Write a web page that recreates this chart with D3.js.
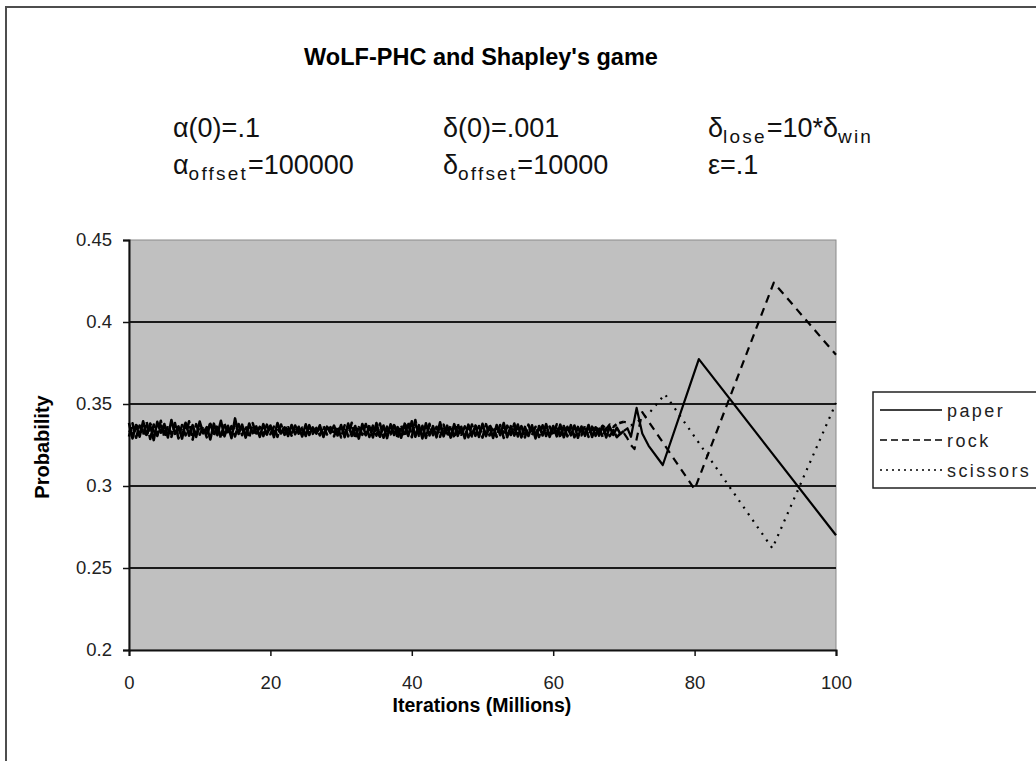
<!DOCTYPE html>
<html>
<head>
<meta charset="utf-8">
<script src="https://cdn.jsdelivr.net/npm/d3@7"></script>
<style>
  body { margin: 0; background: #fff; }
  text { font-family: 'Liberation Sans', Arial, sans-serif; }
</style>
</head>
<body>
<div id="svg"></div>
<script>
//iterations (millions) sampled through the noisy part of the run
let noiseIters = d3.range(0, 70.5, 0.5);

let paperNoise = [
  .3385, .3290, .3372, .3301, .3395, .3312, .3368, .3280, .3391, .3325,
  .3378, .3296, .3402, .3318, .3364, .3289, .3386, .3307, .3371, .3299,
  .3393, .3321, .3359, .3284, .3380, .3310, .3398, .3303, .3367, .3292,
  .3412, .3317, .3374, .3295, .3381, .3322, .3363, .3300, .3377, .3314,
  .3369, .3298, .3384, .3320, .3358, .3305, .3372, .3316, .3361, .3302,
  .3376, .3311, .3357, .3319, .3370, .3299, .3362, .3323, .3368, .3308,
  .3372, .3298, .3381, .3305, .3366, .3289, .3378, .3310, .3362, .3296,
  .3384, .3302, .3369, .3292, .3376, .3311, .3359, .3294, .3380, .3305,
  .3395, .3300, .3371, .3290, .3382, .3308, .3365, .3297, .3388, .3303,
  .3368, .3295, .3377, .3306, .3361, .3291, .3374, .3309, .3366, .3299,
  .3379, .3304, .3363, .3293, .3372, .3310, .3384, .3298, .3365, .3307,
  .3375, .3296, .3360, .3305, .3370, .3290, .3362, .3308, .3377, .3300,
  .3366, .3303, .3374, .3297, .3361, .3309, .3369, .3294, .3363, .3306,
  .3372, .3299, .3358, .3307, .3365, .3296, .3360, .3311, .3356, .3318,
  .3336];
let rockNoise = [
  .3301, .3382, .3294, .3369, .3311, .3390, .3287, .3375, .3305, .3398,
  .3298, .3366, .3315, .3384, .3290, .3372, .3309, .3394, .3283, .3377,
  .3313, .3363, .3297, .3388, .3306, .3370, .3292, .3381, .3318, .3365,
  .3302, .3378, .3310, .3367, .3295, .3383, .3314, .3360, .3304, .3374,
  .3316, .3362, .3300, .3375, .3312, .3358, .3307, .3369, .3319, .3356,
  .3305, .3371, .3318, .3354, .3309, .3366, .3314, .3359, .3303, .3362,
  .3296, .3370, .3303, .3385, .3290, .3364, .3312, .3378, .3299, .3368,
  .3307, .3381, .3294, .3362, .3311, .3376, .3289, .3370, .3305, .3390,
  .3298, .3402, .3306, .3367, .3293, .3379, .3310, .3361, .3300, .3374,
  .3304, .3369, .3292, .3380, .3309, .3363, .3297, .3375, .3306, .3366,
  .3295, .3377, .3308, .3360, .3300, .3372, .3293, .3368, .3311, .3381,
  .3302, .3365, .3296, .3374, .3310, .3361, .3299, .3370, .3305, .3363,
  .3308, .3376, .3294, .3366, .3303, .3371, .3297, .3360, .3309, .3368,
  .3300, .3362, .3306, .3357, .3298, .3352, .3304, .3340, .3298, .3320,
  .3322];
let scissorsNoise = [
  .3340, .3318, .3376, .3327, .3352, .3305, .3381, .3334, .3312, .3369,
  .3331, .3356, .3300, .3374, .3338, .3315, .3389, .3326, .3347, .3308,
  .3362, .3335, .3320, .3379, .3329, .3350, .3311, .3368, .3337, .3324,
  .3371, .3330, .3346, .3313, .3365, .3333, .3321, .3359, .3340, .3316,
  .3361, .3328, .3349, .3318, .3366, .3336, .3323, .3355, .3331, .3344,
  .3317, .3360, .3334, .3326, .3351, .3320, .3358, .3337, .3329, .3348,
  .3351, .3318, .3366, .3329, .3305, .3359, .3337, .3312, .3373, .3324,
  .3346, .3301, .3362, .3335, .3315, .3371, .3328, .3349, .3306, .3364,
  .3332, .3380, .3320, .3354, .3309, .3368, .3338, .3316, .3361, .3327,
  .3350, .3304, .3365, .3331, .3313, .3358, .3340, .3302, .3369, .3322,
  .3345, .3310, .3373, .3334, .3306, .3356, .3326, .3363, .3315, .3348,
  .3330, .3360, .3303, .3352, .3338, .3318, .3366, .3325, .3344, .3309,
  .3357, .3333, .3312, .3364, .3327, .3349, .3306, .3359, .3336, .3320,
  .3353, .3341, .3362, .3335, .3367, .3348, .3374, .3360, .3378, .3385,
  .3392];

//after 70M the oscillations grow
let paperTailIters = [70.5, 71, 71.8, 72.6, 73.5, 75.5, 80.6, 100];
let paperTail = [.3352, .3300, .3476, .3320, .3245, .3128, .3774, .2700];
let rockTailIters = [70.5, 71, 71.5, 72.6, 80, 91.2, 100];
let rockTail = [.3290, .3250, .3225, .3450, .2980, .4240, .3800];
let scissorsTailIters = [70.5, 71, 72, 73.5, 75.8, 91, 100];
let scissorsTail = [.3385, .3370, .3395, .3440, .3560, .2620, .3506];

let seriesNames = ['paper', 'rock', 'scissors'];
let xTicks = [0, 20, 40, 60, 80, 100];
let yTicks = [0.2, 0.25, 0.3, 0.35, 0.4, 0.45];

//dimensions of svg
let w = 1036;
let h = 761;
let plot = { left: 129, right: 836, top: 240, bottom: 650 };
let font = "'Liberation Sans', Arial, sans-serif";

let svg = d3.select('#svg').
append('svg').
attr('width', w).
attr('height', h);

//outer chart frame
svg.append('rect').
attr('x', 6).
attr('y', 7).
attr('width', w + 20).
attr('height', h + 20).
attr('fill', '#fff').
attr('stroke', '#4d4d4d').
attr('stroke-width', 2);

let xScale = d3.scaleLinear().
domain([0, 100]).
range([plot.left, plot.right]);

let yScale = d3.scaleLinear().
domain([0.2, 0.45]).
range([plot.bottom, plot.top]);

//plot area
svg.append('rect').
attr('x', plot.left).
attr('y', plot.top).
attr('width', plot.right - plot.left).
attr('height', plot.bottom - plot.top).
attr('fill', '#c0c0c0').
attr('stroke', '#8a8a8a').
attr('stroke-width', 1);

//gridlines
svg.append('g').
selectAll('line').
data(yTicks.filter(d => d > 0.2 && d < 0.45)).
enter().
append('line').
attr('x1', plot.left).
attr('x2', plot.right).
attr('y1', d => yScale(d)).
attr('y2', d => yScale(d)).
attr('stroke', '#1a1a1a').
attr('stroke-width', 2);

//X axis
let xAxis = d3.axisBottom(xScale).tickValues(xTicks).tickSize(6).tickPadding(20).tickFormat(d3.format('d'));
let gx = svg.append('g').
attr('transform', 'translate(0,' + plot.bottom + ')').
call(xAxis);
gx.select('.domain').attr('stroke', '#111').attr('stroke-width', 2);
gx.selectAll('.tick line').attr('stroke', '#111').attr('stroke-width', 1.5);
gx.selectAll('.tick text').
attr('font-size', 18.5).
attr('fill', '#222').
style('font-family', font);

//Y axis
let yAxis = d3.axisLeft(yScale).tickValues(yTicks).tickSize(6).tickPadding(11).tickFormat(d => String(d));
let gy = svg.append('g').
attr('transform', 'translate(' + plot.left + ',0)').
call(yAxis);
gy.select('.domain').attr('stroke', '#111').attr('stroke-width', 2);
gy.selectAll('.tick line').attr('stroke', '#111').attr('stroke-width', 1.5);
gy.selectAll('.tick text').
attr('font-size', 18.5).
attr('fill', '#222').
style('font-family', font);

//lines: the noisy stretch is drawn a bit heavier, as in the original
let lineGen = d3.line().
x(d => xScale(d[0])).
y(d => yScale(d[1]));

let seriesData = [
  { name: 'paper', dash: null,
    noise: noiseIters.map((t, i) => [t, paperNoise[i]]),
    tail: paperTailIters.map((t, i) => [t, paperTail[i]]) },
  { name: 'rock', dash: '8,6',
    noise: noiseIters.map((t, i) => [t, rockNoise[i]]),
    tail: rockTailIters.map((t, i) => [t, rockTail[i]]) },
  { name: 'scissors', dash: '2,6',
    noise: noiseIters.map((t, i) => [t, scissorsNoise[i]]),
    tail: scissorsTailIters.map((t, i) => [t, scissorsTail[i]]) }];

let lines = svg.append('g');
lines.selectAll('path.noise').
data(seriesData).
enter().
append('path').
attr('class', 'noise').
attr('d', d => lineGen(d.noise)).
attr('fill', 'none').
attr('stroke', '#000').
attr('stroke-width', 2.6).
attr('stroke-linejoin', 'round').
attr('stroke-dasharray', d => d.name === 'paper' ? null : d.name === 'rock' ? '10,3' : '5,3');

lines.selectAll('path.tail').
data(seriesData).
enter().
append('path').
attr('class', 'tail').
attr('d', d => lineGen([d.noise[d.noise.length - 1]].concat(d.tail))).
attr('fill', 'none').
attr('stroke', '#000').
attr('stroke-width', 2.2).
attr('stroke-linejoin', 'round').
attr('stroke-dasharray', d => d.dash);

//title
svg.append('text').
attr('x', 481).
attr('y', 65).
attr('text-anchor', 'middle').
attr('font-size', 23.5).
attr('font-weight', 'bold').
text("WoLF-PHC and Shapley's game");

//parameter annotations
let params = [
  { x: 173, y: 137, parts: [['α(0)=.1']] },
  { x: 443, y: 137, parts: [['δ(0)=.001']] },
  { x: 708, y: 137, parts: [['δ'], ['lose', 'sub'], ['=10*δ'], ['win', 'sub']] },
  { x: 173, y: 174, parts: [['α'], ['offset', 'sub'], ['=100000']] },
  { x: 443, y: 174, parts: [['δ'], ['offset', 'sub'], ['=10000']] },
  { x: 708, y: 174, parts: [['ε=.1']] }];

params.forEach(p => {
  let t = svg.append('text').
  attr('x', p.x).
  attr('y', p.y).
  attr('font-size', 27).
  attr('fill', '#111');
  p.parts.forEach((part, i) => {
    let prev = i > 0 ? p.parts[i - 1][1] : null;
    let dy = 0;
    if (part[1] === 'sub') dy = 6;
    else if (prev === 'sub') dy = -6;
    t.append('tspan').
    attr('dy', dy).
    attr('font-size', part[1] === 'sub' ? 19 : 27).
    attr('letter-spacing', part[1] === 'sub' ? 2.2 : 0).
    text(part[0]);
  });
});

//axis titles
svg.append('text').
attr('transform', 'translate(49,447) rotate(-90)').
attr('text-anchor', 'middle').
attr('font-size', 20).
attr('font-weight', 'bold').
text('Probability');

svg.append('text').
attr('x', 482).
attr('y', 712).
attr('text-anchor', 'middle').
attr('font-size', 19.5).
attr('font-weight', 'bold').
text('Iterations (Millions)');

//Legend
let legend = svg.append('g');
legend.append('rect').
attr('x', 873).
attr('y', 392).
attr('width', 180).
attr('height', 96).
attr('fill', '#fff').
attr('stroke', '#222').
attr('stroke-width', 1.5);

let legendY = d3.scalePoint().
domain(seriesNames).
range([410, 470]);

legend.selectAll('line').
data(seriesData).
enter().
append('line').
attr('x1', 880).
attr('x2', 942).
attr('y1', d => legendY(d.name)).
attr('y2', d => legendY(d.name)).
attr('stroke', '#000').
attr('stroke-width', 1.5).
attr('stroke-dasharray', d => d.name === 'rock' ? '7,4' : d.name === 'scissors' ? '2,4' : null);

legend.selectAll('text').
data(seriesNames).
enter().
append('text').
attr('x', 947).
attr('y', d => legendY(d) + 7).
attr('font-size', 18).
attr('letter-spacing', 2.4).
attr('fill', '#222').
text(d => d);
</script>
</body>
</html>
